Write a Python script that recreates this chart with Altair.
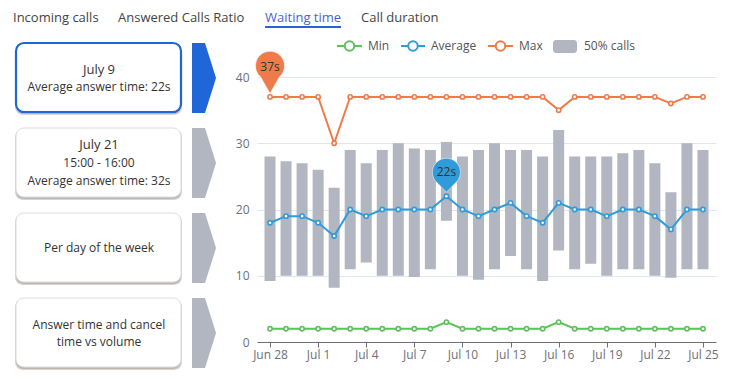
import json
import altair as alt
import pandas as pd

# ---------------- data ----------------
dates = ["Jun 28", "Jun 29", "Jun 30", "Jul 1", "Jul 2", "Jul 3", "Jul 4", "Jul 5",
         "Jul 6", "Jul 7", "Jul 8", "Jul 9", "Jul 10", "Jul 11", "Jul 12", "Jul 13",
         "Jul 14", "Jul 15", "Jul 16", "Jul 17", "Jul 18", "Jul 19", "Jul 20", "Jul 21",
         "Jul 22", "Jul 23", "Jul 24", "Jul 25"]
tick_labels = ["Jun 28", "Jul 1", "Jul 4", "Jul 7", "Jul 10", "Jul 13", "Jul 16",
               "Jul 19", "Jul 22", "Jul 25"]
min_vals = [2, 2, 2, 2, 2, 2, 2, 2, 2, 2, 2, 3, 2, 2, 2, 2, 2, 2, 3, 2, 2, 2, 2, 2, 2, 2, 2, 2]
avg_vals = [18, 19, 19, 18, 16, 20, 19, 20, 20, 20, 20, 22, 20, 19, 20, 21, 19, 18, 21, 20,
            20, 19, 20, 20, 19, 17, 20, 20]
max_vals = [37, 37, 37, 37, 30, 37, 37, 37, 37, 37, 37, 37, 37, 37, 37, 37, 37, 37, 35, 37,
            37, 37, 37, 37, 37, 36, 37, 37]
bar_low = [9.2, 10, 10, 10, 8.2, 11, 12, 10, 10, 9.8, 11, 18.3, 10, 9.4, 11, 13, 11, 9.2,
           13.8, 11, 11.8, 10, 11, 11, 10, 9.7, 11, 11]
bar_high = [28, 27.3, 27, 26, 23.3, 29, 27, 29, 30, 29.2, 29, 30.2, 28, 29, 30, 29, 29, 28,
            32, 28, 28, 28, 28.5, 29, 27, 22.6, 30, 29]
series_names = ["Min", "Average", "Max"]
series_colors = ["#5cc25a", "#2f9bd8", "#ef7b4b"]
pin_days = ["Jun 28", "Jul 9"]
pin_values = [37, 22]
pin_labels = ["37s", "22s"]

tabs = ["Incoming calls", "Answered Calls Ratio", "Waiting time", "Call duration"]
cards = [["July 9", "Average answer time: 22s"],
         ["July 21", "15:00 - 16:00", "Average answer time: 32s"],
         ["Per day of the week"],
         ["Answer time and cancel", "time vs volume"]]

FONT = "Open Sans"
day_idx = list(range(len(dates)))

bars_df = pd.DataFrame({"day": day_idx, "date": dates, "lo": bar_low, "hi": bar_high})
lines_df = pd.concat([
    pd.DataFrame({"day": day_idx, "date": dates, "value": vals, "series": name})
    for name, vals in zip(series_names, [min_vals, avg_vals, max_vals])
])
pins_df = pd.DataFrame({"day": [dates.index(d) for d in pin_days], "value": pin_values,
                        "label": pin_labels})

x_scale = alt.Scale(domain=[-0.5, 27.5], nice=False, zero=False)
y_scale = alt.Scale(domain=[0, 40], nice=False)
color_scale = alt.Scale(domain=series_names, range=series_colors)

label_expr = json.dumps(tick_labels) + "[round(datum.value / 3)]"

X = alt.X("day:Q", scale=x_scale, title=None,
          axis=alt.Axis(values=[dates.index(t) for t in tick_labels], labelExpr=label_expr,
                        grid=False, domainColor="#6e7079", tickColor="#6e7079", tickSize=5,
                        labelColor="#6e7079", labelFontSize=12, labelFont=FONT,
                        labelPadding=2, labelFlush=False))
Y_axis = alt.Axis(values=[0, 10, 20, 30, 40], domain=False, ticks=False, grid=True,
                  gridColor="#e0e6f1", labelColor="#6e7079", labelFontSize=12,
                  labelFont=FONT, labelPadding=8)

bars = alt.Chart(bars_df).mark_bar(size=11, color="#b1b6c1").encode(
    x=X,
    y=alt.Y("lo:Q", scale=y_scale, axis=Y_axis, title=None),
    y2="hi:Q",
)

lines = alt.Chart(lines_df).mark_line(strokeWidth=2).encode(
    x=alt.X("day:Q", scale=x_scale),
    y=alt.Y("value:Q", scale=y_scale),
    color=alt.Color("series:N", scale=color_scale, legend=None),
    detail="series:N",
)
points = alt.Chart(lines_df).mark_point(filled=False, fill="white", size=18,
                                         strokeWidth=1.6, opacity=1).encode(
    x=alt.X("day:Q", scale=x_scale),
    y=alt.Y("value:Q", scale=y_scale),
    color=alt.Color("series:N", scale=color_scale, legend=None),
)

pin_big = "M0,1 L-0.45,0.213 A0.69,0.69 0 1,1 0.45,0.213 Z"
pin_small = "M0,1 L-0.5,0.479 A0.824,0.824 0 1,1 0.5,0.479 Z"
pin_max = alt.Chart(pins_df).transform_filter("datum.label == '37s'").mark_point(
    shape=pin_big, size=1764, filled=True, fill=series_colors[2], opacity=1,
    yOffset=-24.5, stroke="white", strokeWidth=0.5).encode(
    x=alt.X("day:Q", scale=x_scale), y=alt.Y("value:Q", scale=y_scale))
pin_avg = alt.Chart(pins_df).transform_filter("datum.label == '22s'").mark_point(
    shape=pin_small, size=1156, filled=True, fill=series_colors[1], opacity=1,
    yOffset=-21, stroke="white", strokeWidth=0.5).encode(
    x=alt.X("day:Q", scale=x_scale), y=alt.Y("value:Q", scale=y_scale))
pin_text_max = alt.Chart(pins_df).transform_filter("datum.label == '37s'").mark_text(
    font=FONT, fontSize=12, color="#333333", yOffset=-30).encode(
    x=alt.X("day:Q", scale=x_scale), y=alt.Y("value:Q", scale=y_scale), text="label:N")
pin_text_avg = alt.Chart(pins_df).transform_filter("datum.label == '22s'").mark_text(
    font=FONT, fontSize=12, color="#333333", yOffset=-24).encode(
    x=alt.X("day:Q", scale=x_scale), y=alt.Y("value:Q", scale=y_scale), text="label:N")

# ---------------- decorations (UI chrome) ----------------
one = pd.DataFrame({"k": [0]})


def deco_text(text, x, y, size=12, color="#333333", align="center", baseline="middle"):
    return alt.Chart(one).mark_text(text=text, font=FONT, fontSize=size, color=color,
                                    align=align, baseline=baseline).encode(
        x=alt.value(x), y=alt.value(y))


def deco_rect(x, x2, y, y2, **kw):
    return alt.Chart(one).mark_rect(**kw).encode(
        x=alt.value(x), x2=alt.value(x2), y=alt.value(y), y2=alt.value(y2))


deco = []
# tabs
tab_x = [-244, -139, 8, 104]
for t, tx in zip(tabs, tab_x):
    deco.append(deco_text(t, tx, -65.5, size=13,
                          color="#4a63d3" if t == "Waiting time" else "#444444",
                          align="left", baseline="top"))
deco.append(deco_rect(8, 84, -51, -49, fill="#2b63d6"))

# cards
card_top = [-34, 51, 136, 221]
card_lines_y = [[-7, 10], [68, 86, 104], [171], [248, 265]]
chev = "M-0.343,-1 L0.029,-1 L0.343,0 L0.029,1 L-0.343,1 Z"
for i, (ct, lines_txt, ly) in enumerate(zip(card_top, cards, card_lines_y)):
    active = i == 0
    deco.append(deco_rect(-242, -75, ct + 1, ct + 72, fill="#8c807a", opacity=0.35,
                          cornerRadius=8))
    deco.append(deco_rect(-241, -76, ct + 2, ct + 71, fill="#8c807a", opacity=0.35,
                          cornerRadius=8))
    deco.append(deco_rect(-241, -76, ct, ct + 69, fill="white",
                          stroke="#1f66d9" if active else "#dddddd",
                          strokeWidth=2.2 if active else 1, cornerRadius=8))
    for j, (txt, yy) in enumerate(zip(lines_txt, ly)):
        big = (j == 0 and i < 2)
        deco.append(deco_text(txt, -158, yy, size=13 if big else 12,
                              color="#333333"))
    deco.append(alt.Chart(one).mark_point(shape=chev, size=4900, filled=True, opacity=1,
                                          fill="#1f66d9" if active else "#b1b6c1",
                                          strokeWidth=0).encode(
        x=alt.value(-53), y=alt.value(ct + 35)))

# legend
leg_y = -31
leg = [(80, 105, 111, "Min", series_colors[0]),
       (144, 168, 174, "Average", series_colors[1]),
       (231, 256, 262, "Max", series_colors[2])]
for x1, x2, tx, name, col in leg:
    deco.append(alt.Chart(one).mark_rule(color=col, strokeWidth=2).encode(
        x=alt.value(x1), x2=alt.value(x2), y=alt.value(leg_y)))
    deco.append(alt.Chart(one).mark_point(filled=False, fill="white", stroke=col,
                                          strokeWidth=2, size=90, opacity=1).encode(
        x=alt.value((x1 + x2) / 2), y=alt.value(leg_y)))
    deco.append(deco_text(name, tx, leg_y, size=12, color="#555555", align="left"))
deco.append(deco_rect(296, 320, -37, -24, fill="#b1b6c1", cornerRadius=3))
deco.append(deco_text("50% calls", 327, leg_y, size=12, color="#555555", align="left"))

chart = alt.layer(bars, lines, points, pin_max, pin_avg, pin_text_max, pin_text_avg,
                  *deco).properties(
    width=459, height=265, autosize=alt.AutoSizeParams(type="none"),
    padding={"left": 249, "top": 69, "right": 11, "bottom": 32},
).configure_view(stroke=None)

chart.save("out.html", embed_options={"renderer": "svg", "actions": False})
